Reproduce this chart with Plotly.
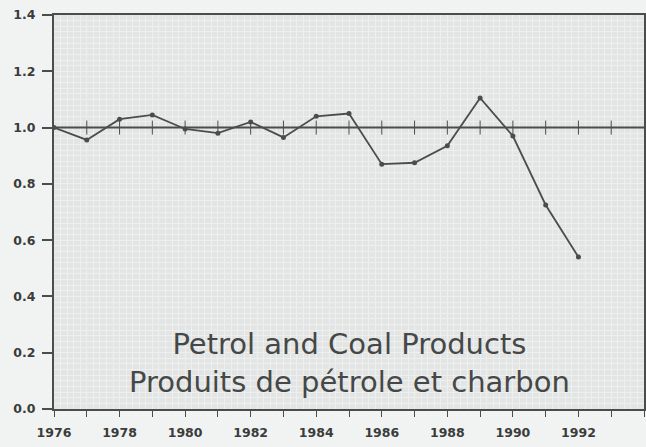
import plotly.graph_objects as go

years = [1976, 1977, 1978, 1979, 1980, 1981, 1982, 1983, 1984,
         1985, 1986, 1987, 1988, 1989, 1990, 1991, 1992]
values = [1.00, 0.956, 1.03, 1.045, 0.995, 0.98, 1.02, 0.965, 1.04,
          1.05, 0.87, 0.875, 0.935, 1.105, 0.97, 0.725, 0.54]

ref_years = list(range(1977, 1994))
ref_value = 1.0

x_tickvals = list(range(1976, 1995))
x_ticktext = [str(y) if (y % 2 == 0 and y <= 1992) else "" for y in x_tickvals]
y_tickvals = [0.0, 0.2, 0.4, 0.6, 0.8, 1.0, 1.2, 1.4]
y_ticktext = ["0.0", "0.2", "0.4", "0.6", "0.8", "1.0", "1.2", "1.4"]

title_lines = ["Petrol and Coal Products", "Produits de pétrole et charbon"]

ink = "#4a4d4c"

fig = go.Figure()

# reference line at 1.0
fig.add_hline(y=ref_value, line=dict(color=ink, width=2))
fig.add_trace(go.Scatter(
    x=ref_years, y=[ref_value] * len(ref_years), mode="markers",
    marker=dict(symbol="line-ns", size=10, line=dict(color=ink, width=1)),
    hoverinfo="skip", showlegend=False))

fig.add_trace(go.Scatter(
    x=years, y=values, mode="lines+markers",
    line=dict(color=ink, width=1.8),
    marker=dict(symbol="circle", size=5, color=ink),
    showlegend=False))

fig.add_annotation(
    x=0.5, xref="paper", y=0.165, yref="y", yanchor="middle",
    text="<br>".join(title_lines), showarrow=False,
    font=dict(family="DejaVu Sans", size=29, color="#454847"))

tick_font = dict(family="DejaVu Sans", size=12.5, color="#3a3c3b", weight="bold")

fig.update_xaxes(
    range=[1976, 1994], tickmode="array", tickvals=x_tickvals, ticktext=x_ticktext,
    ticks="outside", ticklen=6, tickwidth=1, tickcolor=ink,
    showline=True, linecolor=ink, linewidth=2, mirror=True,
    showgrid=False, zeroline=False, tickfont=tick_font, ticklabelstandoff=5,
    automargin=False,
    minor=dict(dtick=0.2, showgrid=True, gridcolor="#eef0ef", gridwidth=1))
fig.update_yaxes(
    range=[0, 1.4], tickmode="array", tickvals=y_tickvals, ticktext=y_ticktext,
    ticks="outside", ticklen=10, tickwidth=1.5, tickcolor=ink,
    showline=True, linecolor=ink, linewidth=2, mirror=True,
    showgrid=False, zeroline=False, tickfont=tick_font, ticklabelstandoff=4,
    automargin=False,
    minor=dict(dtick=0.02, showgrid=True, gridcolor="#eef0ef", gridwidth=1))

fig.update_layout(
    width=646, height=447,
    margin=dict(l=54, r=2, t=15, b=38),
    paper_bgcolor="#f1f3f2", plot_bgcolor="#e2e5e3",
    showlegend=False)

fig.write_html("out.html", config={"displayModeBar": False},
               post_script="document.body.style.margin='0px';document.body.style.background='#f1f3f2';")
